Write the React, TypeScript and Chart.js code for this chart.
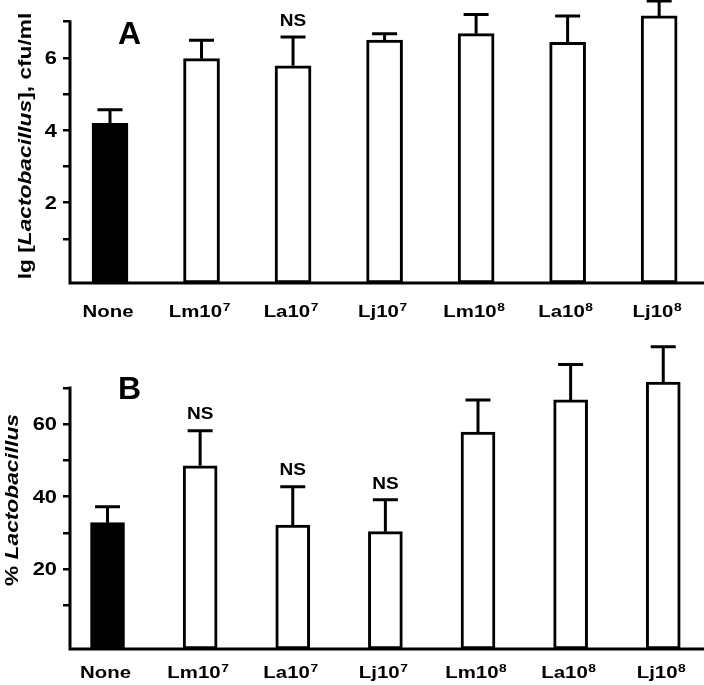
import React, { useEffect, useRef } from 'react';
import { Chart, registerables } from 'chart.js';

Chart.register(...registerables);

// ---- data ----
const strains = ['None', 'Lm10', 'La10', 'Lj10', 'Lm10', 'La10', 'Lj10'];
const doseExponents = ['', '7', '7', '7', '8', '8', '8'];

const countMeans = [4.19, 5.98, 5.78, 6.49, 6.67, 6.43, 7.16];
const countErrors = [0.38, 0.51, 0.8, 0.18, 0.53, 0.73, 0.41];
const countNS = [false, false, true, false, false, false, false];
const countTicks = [1, 2, 3, 4, 5, 6, 7];
const countTickLabels = [2, 4, 6];

const percentMeans = [32.8, 48.5, 32.1, 30.3, 57.8, 66.7, 71.6];
const percentErrors = [4.4, 9.7, 10.6, 8.8, 8.9, 9.8, 9.8];
const percentNS = [false, true, true, true, false, false, false];
const percentTicks = [10, 20, 30, 40, 50, 60, 70];
const percentTickLabels = [20, 40, 60];

const barFills = ['#000000', '#ffffff', '#ffffff', '#ffffff', '#ffffff', '#ffffff', '#ffffff'];

const FONT = "'Liberation Sans', Arial, Helvetica, sans-serif";

function drawStretched(
  ctx: CanvasRenderingContext2D,
  text: string,
  x: number,
  y: number,
  font: string,
  sx: number,
  align: CanvasTextAlign = 'center'
) {
  ctx.save();
  ctx.font = font;
  ctx.translate(x, y);
  ctx.scale(sx, 1);
  ctx.textAlign = align;
  ctx.textBaseline = 'middle';
  ctx.fillStyle = '#000';
  ctx.fillText(text, 0, 0);
  ctx.restore();
}

function drawLabel(ctx: CanvasRenderingContext2D, base: string, exp: string, cx: number, cy: number, sx: number) {
  ctx.save();
  ctx.fillStyle = '#000';
  ctx.textBaseline = 'alphabetic';
  ctx.textAlign = 'left';
  const baseFont = `bold 17px ${FONT}`;
  const expFont = `bold 11.5px ${FONT}`;
  ctx.font = baseFont;
  const wb = ctx.measureText(base).width;
  ctx.font = expFont;
  const we = exp ? ctx.measureText(exp).width + 0.5 : 0;
  const total = wb + we;
  ctx.translate(cx, cy + 6);
  ctx.scale(sx, 1);
  const x0 = -total / 2;
  ctx.font = baseFont;
  ctx.fillText(base, x0, 0);
  if (exp) {
    ctx.font = expFont;
    ctx.fillText(exp, x0 + wb + 0.5, -6);
  }
  ctx.restore();
}

type Part = { t: string; i: boolean };

function drawTitle(ctx: CanvasRenderingContext2D, parts: Part[], cx: number, cy: number, sx: number) {
  ctx.save();
  ctx.fillStyle = '#000';
  ctx.translate(cx, cy);
  ctx.rotate(-Math.PI / 2);
  ctx.scale(sx, 1);
  ctx.textBaseline = 'middle';
  ctx.textAlign = 'left';
  const fontFor = (p: Part) => `${p.i ? 'italic ' : ''}bold 17.5px ${FONT}`;
  let total = 0;
  const widths = parts.map((p) => {
    ctx.font = fontFor(p);
    const w = ctx.measureText(p.t).width;
    total += w;
    return w;
  });
  let x = -total / 2;
  parts.forEach((p, k) => {
    ctx.font = fontFor(p);
    ctx.fillText(p.t, x, 0);
    x += widths[k];
  });
  ctx.restore();
}

type PanelProps = {
  height: number;
  bottomPad: number;
  means: number[];
  errors: number[];
  ns: boolean[];
  ticks: number[];
  tickLabels: number[];
  yMin: number;
  yMax: number;
  xMin: number;
  xMax: number;
  barWidth: number;
  letter: string;
  letterY: number;
  title: Part[];
  titleX: number;
  titleY: number;
  labelOffset: number;
};

function Panel(p: PanelProps) {
  const ref = useRef<HTMLCanvasElement | null>(null);

  useEffect(() => {
    const canvas = ref.current;
    if (!canvas) return;
    const annot = {
      id: 'annot',
      afterDatasetsDraw(chart: any) {
        const ctx: CanvasRenderingContext2D = chart.ctx;
        const ys = chart.scales.y;
        const meta = chart.getDatasetMeta(0);
        const { left, bottom } = chart.chartArea;
        ctx.save();
        ctx.strokeStyle = '#000';
        ctx.lineWidth = 3;
        ctx.lineCap = 'butt';
        // axes
        ctx.beginPath();
        ctx.moveTo(left, ys.getPixelForValue(p.ticks[p.ticks.length - 1]) - 1.5);
        ctx.lineTo(left, bottom + 1.5);
        ctx.moveTo(left - 1.5, bottom);
        ctx.lineTo(chart.width, bottom);
        ctx.stroke();
        // y tick labels
        p.tickLabels.forEach((v) => {
          drawStretched(ctx, String(v), left - 13, ys.getPixelForValue(v) + 1, `bold 19px ${FONT}`, 1.15, 'right');
        });
        // error bars, NS marks, category labels
        meta.data.forEach((bar: any, i: number) => {
          const top = ys.getPixelForValue(p.means[i] + p.errors[i]);
          ctx.beginPath();
          ctx.moveTo(bar.x, bar.y);
          ctx.lineTo(bar.x, top);
          ctx.moveTo(bar.x - 12.5, top);
          ctx.lineTo(bar.x + 12.5, top);
          ctx.stroke();
          if (p.ns[i]) drawStretched(ctx, 'NS', bar.x, top - 16, `bold 17px ${FONT}`, 1.12);
          drawLabel(ctx, strains[i], doseExponents[i], bar.x - 2, bottom + p.labelOffset, 1.2);
        });
        ctx.restore();
        drawStretched(ctx, p.letter, 129.5, p.letterY, `bold 32px ${FONT}`, 1);
        drawTitle(ctx, p.title, p.titleX, p.titleY, 1.3);
      },
    };

    const chart = new Chart(canvas, {
      type: 'bar',
      data: {
        datasets: [
          {
            data: p.means.map((v, i) => ({ x: i, y: v })) as any,
            backgroundColor: barFills,
            borderColor: '#000000',
            borderWidth: 3,
            borderSkipped: false,
            barThickness: p.barWidth,
            base: p.yMin,
          } as any,
        ],
      },
      options: {
        animation: false,
        responsive: false,
        events: [],
        layout: { padding: { left: 0, right: 0, top: 0, bottom: p.bottomPad } },
        plugins: { legend: { display: false }, tooltip: { enabled: false } },
        scales: {
          x: {
            type: 'linear',
            display: false,
            offset: false,
            min: p.xMin,
            max: p.xMax,
          },
          y: {
            type: 'linear',
            min: p.yMin,
            max: p.yMax,
            border: { display: false },
            grid: {
              display: true,
              drawOnChartArea: false,
              drawTicks: true,
              tickLength: 7,
              color: '#000000',
              lineWidth: 2.5,
            },
            ticks: {
              display: false,
            },
            afterBuildTicks: (scale: any) => {
              scale.ticks = p.ticks.map((v) => ({ value: v }));
            },
            afterFit: (scale: any) => {
              scale.width = 70;
              scale.paddingTop = 0;
              scale.paddingBottom = 0;
            },
          },
        },
      } as any,
      plugins: [annot],
    });
    return () => chart.destroy();
  }, []);

  return <canvas ref={ref} width={704} height={p.height} style={{ display: 'block', width: 704, height: p.height }} />;
}

export default function App() {
  return (
    <div style={{ position: 'absolute', left: 0, top: 0, width: 704, height: 685, background: '#ffffff' }}>
      <Panel
        height={330}
        bottomPad={47}
        means={countMeans}
        errors={countErrors}
        ns={countNS}
        ticks={countTicks}
        tickLabels={countTickLabels}
        yMin={-0.22}
        yMax={7.6}
        xMin={-0.437}
        xMax={6.49}
        barWidth={36}
        letter="A"
        letterY={35}
        title={[
          { t: 'lg [', i: false },
          { t: 'Lactobacillus', i: true },
          { t: '], cfu/ml', i: false },
        ]}
        titleX={26}
        titleY={146}
        labelOffset={28}
      />
      <Panel
        height={355}
        bottomPad={36}
        means={percentMeans}
        errors={percentErrors}
        ns={percentNS}
        ticks={percentTicks}
        tickLabels={percentTickLabels}
        yMin={-2.1}
        yMax={86}
        xMin={-0.405}
        xMax={6.44}
        barWidth={34}
        letter="B"
        letterY={60}
        title={[
          { t: '% ', i: false },
          { t: 'Lactobacillus', i: true },
        ]}
        titleX={13}
        titleY={170}
        labelOffset={22.5}
      />
    </div>
  );
}
